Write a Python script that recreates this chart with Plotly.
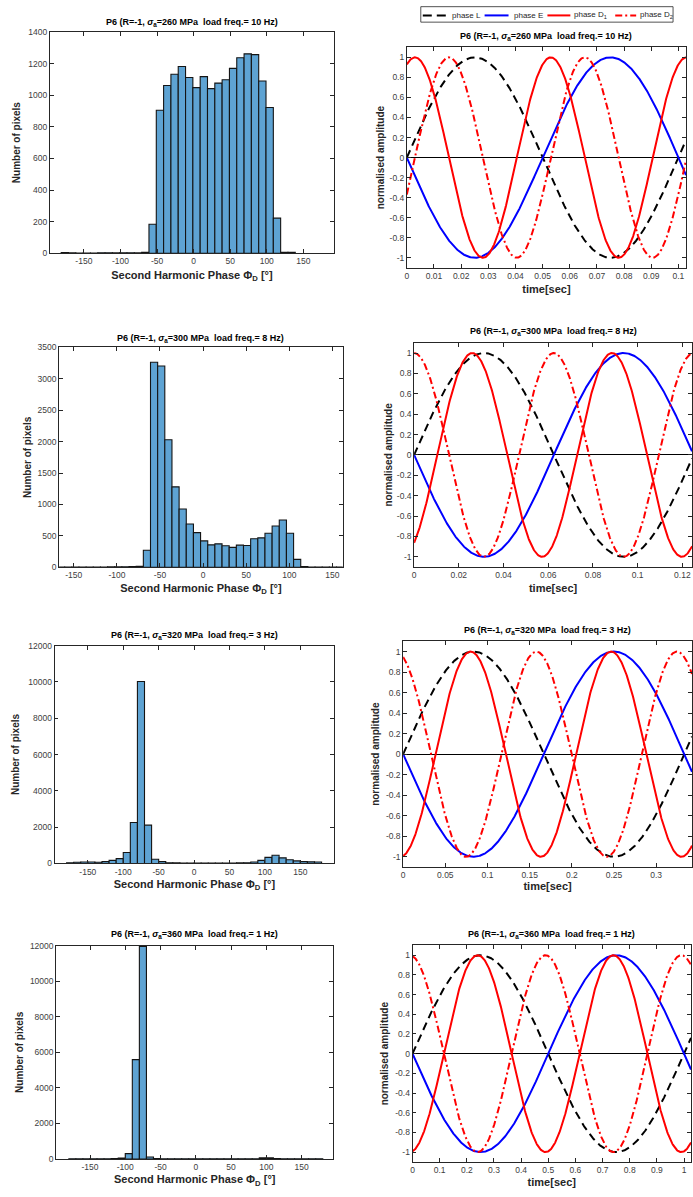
import numpy as np
import plotly.graph_objects as go

W, H = 693, 1197

# ---------------- data ----------------
stress_amp = [260, 300, 320, 360]          # MPa
load_freq = [10, 8, 3, 1]                  # Hz

# histogram 1 (10 deg bins)
hist1_start, hist1_width = -181.0, 10.0
hist1_counts = [4, 2, 1, 1, 1, 3, 3, 2, 3, 3, 2, 6,
                183, 905, 1062, 1133, 1182, 1112, 1048, 1118, 1042, 1077,
                1098, 1170, 1237, 1262, 1257, 1090, 922, 222, 6, 5]

# histogram 2 (40 bins)
hist2_start, hist2_width = -168.9, 8.3
hist2_counts = [2, 3, 3, 4, 4, 5, 5, 6, 6, 8, 10, 15,
                270, 3265, 3205, 2030, 1280, 928, 690, 552, 420, 357, 373,
                342, 316, 352, 347, 453, 468, 542, 658, 753, 542, 125,
                12, 5, 4, 3, 2, 2]

# histogram 3 (10 deg bins, -180..180)
hist3_start, hist3_width = -180.0, 10.0
hist3_counts = [40, 70, 80, 80, 70, 100, 170, 265, 600, 2260, 10020, 2110,
                235, 100, 40, 30, 20, 20, 20, 20, 20, 20, 20, 20,
                30, 40, 80, 170, 335, 455, 310, 205, 140, 100, 90, 80]

# histogram 4 (10 deg bins, -180..180)
hist4_start, hist4_width = -180.0, 10.0
hist4_counts = [10, 10, 10, 10, 10, 15, 20, 55, 300, 5590, 11960, 110,
                30, 15, 10, 10, 10, 10, 10, 10, 10, 10, 10, 10,
                10, 10, 15, 60, 60, 25, 15, 10, 10, 10, 10, 10]

# waveform parameters
t_end = [0.1028, 0.1243, 0.3425, 1.0257]          # end of time axis [s]
d1_peak_time = [0.003, 0.026, 0.080, 0.240]       # first peak of phase D1 [s]
d2_peak_time = [0.0155, 0.0625, 0.158, 0.490]     # a peak of phase D2 [s]

series_names = ["phase L", "phase E", "phase D<sub>1</sub>", "phase D<sub>2</sub>"]

hist_y_max = [1400, 3500, 12000, 12000]
hist_y_step = [200, 500, 2000, 2000]
hist_x_range = [[-196.5, 192.0], [-167.0, 162.0], [-197.0, 198.0], [-198.0, 195.0]]
hist_x_ticks = [-150, -100, -50, 0, 50, 100, 150]

wave_x_ticks = [
    [0, 0.01, 0.02, 0.03, 0.04, 0.05, 0.06, 0.07, 0.08, 0.09, 0.1],
    [0, 0.02, 0.04, 0.06, 0.08, 0.1, 0.12],
    [0, 0.05, 0.1, 0.15, 0.2, 0.25, 0.3],
    [0, 0.1, 0.2, 0.3, 0.4, 0.5, 0.6, 0.7, 0.8, 0.9, 1],
]
wave_y_ticks = [-1, -0.8, -0.6, -0.4, -0.2, 0, 0.2, 0.4, 0.6, 0.8, 1]

hist_list = [
    (hist1_start, hist1_width, hist1_counts),
    (hist2_start, hist2_width, hist2_counts),
    (hist3_start, hist3_width, hist3_counts),
    (hist4_start, hist4_width, hist4_counts),
]

# ---------------- layout geometry (pixels) ----------------
hist_box = [(48, 333, 27.3, 250.3), (57.3, 341.7, 345.3, 567.0),
            (52.7, 333.3, 646.0, 865.7), (54.3, 332.3, 948.7, 1163.7)]
wave_box = [(406, 686, 42.7, 265.0), (413.3, 692, 340.7, 566.7),
            (402.3, 692, 641.7, 869.3), (411.7, 691, 948.3, 1166.7)]

hist_title_y = [18, 336, 636, 937]
wave_title_y = [32, 329, 631, 937]
hist_x_standoff = [5, 4, 4, 4]
wave_x_standoff = [5, 5, 3, 4]
hist_y_standoff = [5, 4, 6, 4]
wave_y_standoff = [3, 2, 4, 4]

FONT = "Liberation Sans, Arial, Helvetica, sans-serif"
AX = "rgb(38,38,38)"
TICKC = "rgb(64,64,64)"
BAR = "rgb(94,163,211)"
LINE_STYLES = [dict(color="black", width=2, dash="8px,5px"),
               dict(color="rgb(0,0,255)", width=2),
               dict(color="rgb(255,0,0)", width=2),
               dict(color="rgb(255,0,0)", width=2, dash="7px,3px,2px,3px")]


def px(x):
    return x / W


def py(y):
    return 1 - y / H


def fmt(v):
    return "%g" % v


fig = go.Figure()
layout = dict(width=W, height=H, margin=dict(l=0, r=0, t=0, b=0), autosize=False,
              paper_bgcolor="white", plot_bgcolor="white",
              font=dict(family=FONT, color="black", size=10), showlegend=False)
annotations = []
shapes = []


def axis_common(title, size, standoff):
    return dict(showline=True, linecolor=AX, linewidth=0.8, mirror="allticks",
                ticks="inside", ticklen=4, tickwidth=0.8, tickcolor=AX,
                showgrid=False, zeroline=False,
                tickfont=dict(family=FONT, size=8.5, color=TICKC),
                title=dict(text=title, standoff=standoff,
                           font=dict(family=FONT, size=size, color=AX)))


def title_text(i):
    return ("P6 (R=-1, <i>σ</i><sub>a</sub>=%d MPa\u00a0 load freq.= %d Hz)"
            % (stress_amp[i], load_freq[i]))


def note(text, x, y, size, color="black", xanchor="center"):
    annotations.append(dict(text=text, xref="paper", yref="paper", x=px(x), y=py(y),
                            xanchor=xanchor, yanchor="middle", showarrow=False,
                            font=dict(family=FONT, size=size, color=color)))


for i in range(4):
    # ---------- histogram ----------
    start, width, counts = hist_list[i]
    counts = np.array(counts, dtype=float)
    centers = start + width * (np.arange(len(counts)) + 0.5)
    xa = "xaxis%d" % (2 * i + 1)
    ya = "yaxis%d" % (2 * i + 1)
    xr = "x%d" % (2 * i + 1)
    yr = "y%d" % (2 * i + 1)
    fig.add_trace(go.Bar(x=centers, y=counts, width=width, xaxis=xr, yaxis=yr,
                         marker=dict(color=BAR, line=dict(color="rgb(20,20,20)", width=1.1)),
                         showlegend=False, hoverinfo="skip"))
    x0, x1, y0, y1 = hist_box[i]
    ax = axis_common("<b>Second Harmonic Phase Φ<sub>D</sub> [°]</b>", 11, hist_x_standoff[i])
    ax.update(domain=[px(x0), px(x1)], range=hist_x_range[i], anchor=yr,
              tickvals=hist_x_ticks, ticktext=[fmt(v) for v in hist_x_ticks])
    layout[xa] = ax
    yv = list(range(0, hist_y_max[i] + 1, hist_y_step[i]))
    ay = axis_common("<b>Number of pixels</b>", 10, hist_y_standoff[i])
    ay.update(domain=[py(y1), py(y0)], range=[0, hist_y_max[i]], anchor=xr,
              tickvals=yv, ticktext=[str(v) for v in yv])
    layout[ya] = ay

    note("<b>" + title_text(i) + "</b>", (x0 + x1) / 2, hist_title_y[i], 9)

    # ---------- waveforms ----------
    f = load_freq[i]
    t = np.linspace(0, t_end[i], 600)
    phase_L = np.sin(2 * np.pi * f * t)
    phase_E = -np.sin(2 * np.pi * f * t)
    phase_D1 = np.cos(2 * np.pi * 2 * f * (t - d1_peak_time[i]))
    phase_D2 = np.cos(2 * np.pi * 2 * f * (t - d2_peak_time[i]))
    xa = "xaxis%d" % (2 * i + 2)
    ya = "yaxis%d" % (2 * i + 2)
    xr = "x%d" % (2 * i + 2)
    yr = "y%d" % (2 * i + 2)
    for k, yy in enumerate([phase_L, phase_E, phase_D1, phase_D2]):
        fig.add_trace(go.Scatter(x=t, y=yy, mode="lines", name=series_names[k],
                                 xaxis=xr, yaxis=yr, line=LINE_STYLES[k],
                                 showlegend=False, hoverinfo="skip"))
    x0, x1, y0, y1 = wave_box[i]
    ax = axis_common("<b>time[sec]</b>", 11, wave_x_standoff[i])
    ax.update(domain=[px(x0), px(x1)], range=[0, t_end[i]], anchor=yr,
              tickvals=wave_x_ticks[i], ticktext=[fmt(v) for v in wave_x_ticks[i]])
    layout[xa] = ax
    ay = axis_common("<b>normalised amplitude</b>", 10, wave_y_standoff[i])
    ay.update(domain=[py(y1), py(y0)], range=[-1.1, 1.1], anchor=xr,
              tickvals=wave_y_ticks, ticktext=[fmt(v) for v in wave_y_ticks],
              zeroline=True, zerolinecolor="black", zerolinewidth=1)
    layout[ya] = ay

    note("<b>" + title_text(i) + "</b>", (x0 + x1) / 2, wave_title_y[i], 9)

# ---------- legend (box with line samples and labels) ----------
shapes.append(dict(type="rect", xref="paper", yref="paper", x0=px(420), x1=px(673),
                   y0=py(17.3), y1=py(1.7), line=dict(color="rgb(38,38,38)", width=0.8),
                   fillcolor="white"))
legend_sample_x = [(422, 447), (484, 508), (547, 570), (615, 636)]
legend_text_x = [449, 511, 572, 638]
for k in range(4):
    st = dict(LINE_STYLES[k])
    if k == 0:
        st["dash"] = "9px,5px"
    shapes.append(dict(type="line", xref="paper", yref="paper",
                       x0=px(legend_sample_x[k][0]), x1=px(legend_sample_x[k][1]),
                       y0=py(10.5), y1=py(10.5), line=st))
    note(series_names[k], legend_text_x[k], 10.2, 8, "rgb(38,38,38)", xanchor="left")

layout["annotations"] = annotations
layout["shapes"] = shapes
fig.update_layout(**layout)
fig.write_html("out.html")
